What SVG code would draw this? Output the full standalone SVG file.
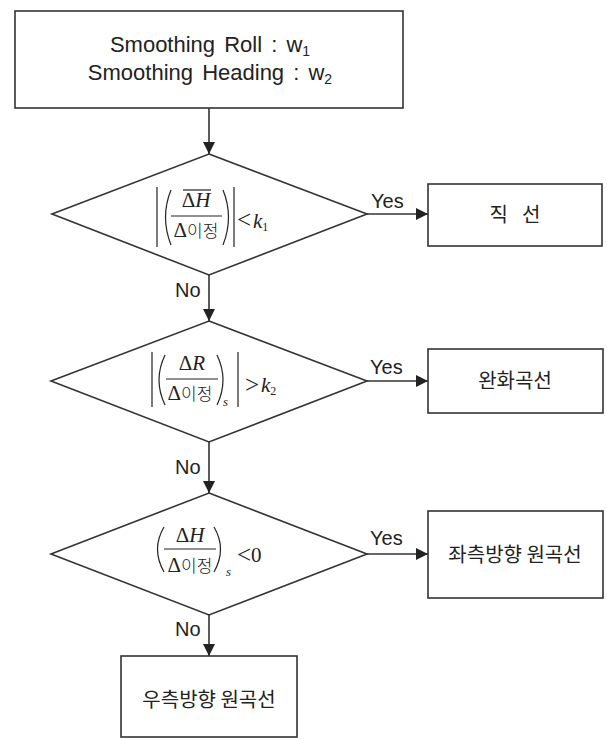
<svg xmlns="http://www.w3.org/2000/svg" width="607" height="739" viewBox="0 0 607 739">
<defs>
<style>
.box{fill:#fff;stroke:#333;stroke-width:1.6}
.ln{fill:none;stroke:#333;stroke-width:1.6}
.mth{fill:none;stroke:#222;stroke-width:1.2}
.lbl{font-family:"Liberation Sans",Arial,sans-serif;font-size:20px;fill:#222}
.kr{font-family:"Noto Sans CJK KR",sans-serif;font-size:20px;fill:#222}
.en{font-family:"Liberation Sans",Arial,sans-serif;font-size:22px;fill:#222;word-spacing:3px}
.m{font-family:"Liberation Serif","Times New Roman",serif;font-size:21px;fill:#222}
.mk{font-family:"Noto Sans CJK KR",sans-serif;font-size:17px;font-weight:300;fill:#222}
.it{font-style:italic}
.sub{font-size:12px;font-style:normal}
.subi{font-size:13px;font-style:italic}
.rel{font-size:25px}
</style>
<marker id="ah" markerWidth="12" markerHeight="12" refX="12" refY="6" orient="auto" markerUnits="userSpaceOnUse">
<path d="M0,0 L12,6 L0,12 Z" fill="#222"/>
</marker>
</defs>

<g id="start">
<rect class="box" x="15" y="11" width="388" height="97"/>
<text class="en" x="210" y="52" text-anchor="middle">Smoothing Roll : w<tspan style="font-size:14px" dy="4">1</tspan></text>
<text class="en" x="210" y="80" text-anchor="middle">Smoothing Heading : w<tspan style="font-size:14px" dy="4">2</tspan></text>
</g>

<g id="d1">
<polygon class="box" points="209,154 367,214 209,275 52,214"/>
<line class="mth" x1="157" y1="187" x2="157" y2="247"/>
<path class="mth" d="M171,190 Q160,217 171,245"/>
<text class="m" x="196" y="207" text-anchor="middle">Δ<tspan class="it">H</tspan></text>
<line class="mth" x1="183" y1="190" x2="211" y2="190"/>
<line class="mth" x1="171" y1="216" x2="222" y2="216"/>
<text x="196" y="237" text-anchor="middle"><tspan class="m">Δ</tspan><tspan class="mk">이정</tspan></text>
<path class="mth" d="M223,190 Q234,217 223,245"/>
<line class="mth" x1="234" y1="187" x2="234" y2="247"/>
<text class="m rel" x="237" y="228">&lt;</text>
<text class="m it" x="253" y="228">k<tspan class="sub" dy="3">1</tspan></text>
</g>

<g id="d2">
<polygon class="box" points="209,321 367,381 209,442 51,381"/>
<line class="mth" x1="152" y1="352" x2="152" y2="407"/>
<path class="mth" d="M165,355 Q153,380 165,405"/>
<text class="m" x="192" y="370" text-anchor="middle">Δ<tspan class="it">R</tspan></text>
<line class="mth" x1="166" y1="379" x2="218" y2="379"/>
<text x="190" y="400" text-anchor="middle"><tspan class="m">Δ</tspan><tspan class="mk">이정</tspan></text>
<path class="mth" d="M217,355 Q229,380 217,405"/>
<text class="m subi" x="223" y="406">s</text>
<line class="mth" x1="238" y1="352" x2="238" y2="407"/>
<text class="m rel" x="245" y="393">&gt;</text>
<text class="m it" x="261" y="392">k<tspan class="sub" dy="3">2</tspan></text>
</g>

<g id="d3">
<polygon class="box" points="209,493 367,554 209,615 51,554"/>
<path class="mth" d="M164,527 Q151,549 164,572"/>
<text class="m" x="190" y="542" text-anchor="middle">Δ<tspan class="it">H</tspan></text>
<line class="mth" x1="164" y1="549" x2="216" y2="549"/>
<text x="190" y="572" text-anchor="middle"><tspan class="m">Δ</tspan><tspan class="mk">이정</tspan></text>
<path class="mth" d="M214,527 Q227,549 214,572"/>
<text class="m subi" x="226" y="576">s</text>
<text class="m rel" x="237" y="563">&lt;</text>
<text class="m" x="251" y="562">0</text>
</g>

<g id="straight">
<rect class="box" x="428" y="184" width="174" height="62"/>
<text class="kr" x="515" y="222" text-anchor="middle">직<tspan dx="14">선</tspan></text>
</g>

<g id="transition">
<rect class="box" x="428" y="349" width="175" height="64"/>
<text class="kr" x="515" y="388" text-anchor="middle">완화곡선</text>
</g>

<g id="leftcurve">
<rect class="box" x="428" y="511" width="175" height="87"/>
<text class="kr" x="515" y="562" text-anchor="middle">좌측방향 원곡선</text>
</g>

<g id="rightcurve">
<rect class="box" x="121" y="656" width="176" height="81"/>
<text class="kr" x="209" y="707" text-anchor="middle">우측방향 원곡선</text>
</g>

<g id="connectors">
<line class="ln" x1="209" y1="108" x2="209" y2="154" marker-end="url(#ah)"/>
<line class="ln" x1="209" y1="275" x2="209" y2="321" marker-end="url(#ah)"/>
<line class="ln" x1="209" y1="442" x2="209" y2="493" marker-end="url(#ah)"/>
<line class="ln" x1="209" y1="615" x2="209" y2="656" marker-end="url(#ah)"/>
<line class="ln" x1="367" y1="214" x2="428" y2="214" marker-end="url(#ah)"/>
<line class="ln" x1="367" y1="381" x2="428" y2="381" marker-end="url(#ah)"/>
<line class="ln" x1="367" y1="554" x2="428" y2="554" marker-end="url(#ah)"/>
<text class="lbl" x="371" y="208">Yes</text>
<text class="lbl" x="370" y="374">Yes</text>
<text class="lbl" x="370" y="545">Yes</text>
<text class="lbl" x="175" y="297">No</text>
<text class="lbl" x="175" y="474">No</text>
<text class="lbl" x="175" y="636">No</text>
</g>
</svg>
